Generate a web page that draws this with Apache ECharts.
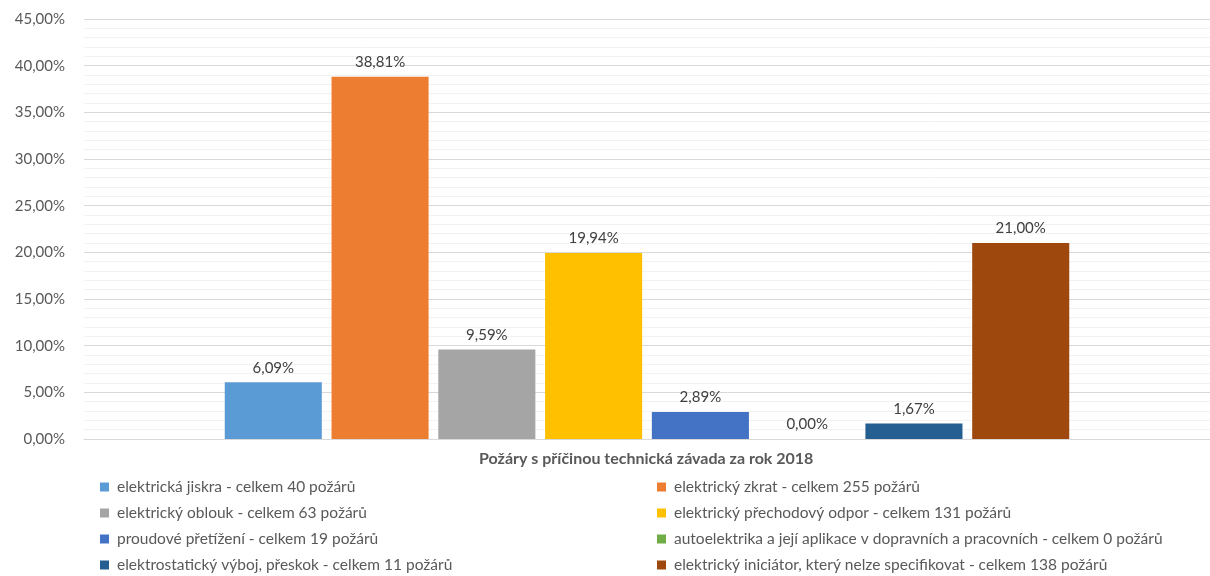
<!DOCTYPE html>
<html>
<head>
<meta charset="utf-8">
<script src="https://cdn.jsdelivr.net/npm/echarts@6/dist/echarts.min.js"></script>
<style>
  html, body { margin: 0; padding: 0; background: #fff; }
  #chart { width: 1210px; height: 576px; }
</style>
</head>
<body>
<div id="chart"></div>
<script>
// Fire causes (technical faults), share of all fires in 2018
const causes = [
  'elektrická jiskra - celkem 40 požárů',
  'elektrický zkrat - celkem 255 požárů',
  'elektrický oblouk - celkem 63 požárů',
  'elektrický přechodový odpor - celkem 131 požárů',
  'proudové přetížení - celkem 19 požárů',
  'autoelektrika a její aplikace v dopravních a pracovních - celkem 0 požárů',
  'elektrostatický výboj, přeskok - celkem 11 požárů',
  'elektrický iniciátor, který nelze specifikovat - celkem 138 požárů'
];
const shares = [6.09, 38.81, 9.59, 19.94, 2.89, 0.00, 1.67, 21.00];
const colors = ['#5B9BD5', '#ED7D31', '#A5A5A5', '#FFC000', '#4472C4', '#70AD47', '#255E91', '#9E480E'];
const chartTitle = 'Požáry s příčinou technická závada za rok 2018';

const FONT = 'Lato';
const fmtPct = v => v.toFixed(2).replace('.', ',') + '%';

const series = causes.map((name, i) => ({
  name: name,
  type: 'bar',
  data: [shares[i]],
  barGap: '10%',
  barCategoryGap: '25%',
  itemStyle: { color: colors[i] },
  label: {
    show: true,
    position: 'top',
    distance: 7,
    color: '#404040',
    fontFamily: FONT,
    fontSize: 15,
    formatter: p => fmtPct(p.value)
  }
}));

const legendBase = {
  orient: 'vertical',
  icon: 'rect',
  itemWidth: 9,
  itemHeight: 9,
  itemGap: 10,
  top: 479,
  padding: 0,
  selectedMode: false,
  textStyle: { color: '#595959', fontFamily: FONT, fontSize: 15.5, lineHeight: 16, padding: [0, 0, 0, 3] }
};

const option = {
  animation: false,
  textStyle: { fontFamily: FONT },
  title: {
    text: chartTitle,
    left: 479,
    top: 451,
    padding: 0,
    textStyle: { color: '#595959', fontFamily: FONT, fontSize: 16, fontWeight: 'bold' }
  },
  legend: [
    Object.assign({}, legendBase, { left: 100, data: [causes[0], causes[2], causes[4], causes[6]] }),
    Object.assign({}, legendBase, { left: 657, data: [causes[1], causes[3], causes[5], causes[7]] })
  ],
  grid: { left: 84, right: 0, top: 19, bottom: 137, containLabel: false },
  xAxis: {
    type: 'category',
    data: [''],
    axisLine: { show: true, lineStyle: { color: '#D9D9D9', width: 1 } },
    axisTick: { show: false },
    axisLabel: { show: false }
  },
  yAxis: {
    type: 'value',
    min: 0,
    max: 45,
    interval: 5,
    axisLine: { show: false },
    axisTick: { show: false },
    axisLabel: {
      color: '#595959',
      fontFamily: FONT,
      fontSize: 15,
      margin: 19,
      formatter: v => fmtPct(v)
    },
    splitLine: { show: true, lineStyle: { color: '#D9D9D9', width: 1 } },
    minorTick: { show: false, splitNumber: 5 },
    minorSplitLine: { show: true, lineStyle: { color: '#F2F2F2', width: 1 } }
  },
  series: series
};

const chart = echarts.init(document.getElementById('chart'), null, { renderer: 'canvas' });
chart.setOption(option);
</script>
</body>
</html>
